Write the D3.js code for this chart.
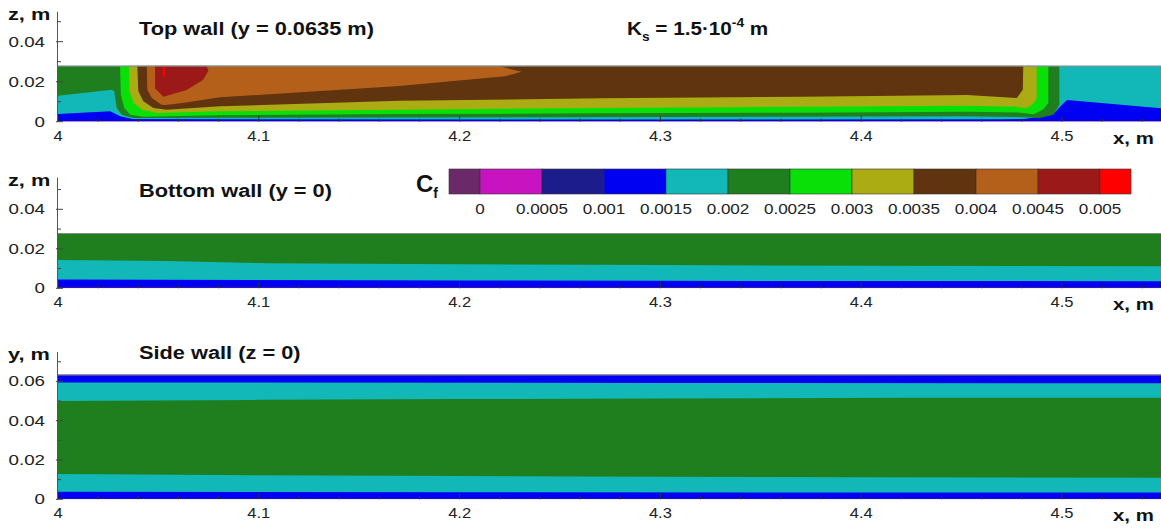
<!DOCTYPE html>
<html>
<head>
<meta charset="utf-8">
<script src="https://cdn.jsdelivr.net/npm/d3@7"></script>
<style>
  body { margin: 0; background: #fff; }
  svg { display: block; font-family: "Liberation Sans", Arial, sans-serif; }
</style>
</head>
<body>
<svg id="chart" width="1161" height="529"></svg>
<script>
// colour levels of Cf
const legendValues = [0, 0.0005, 0.001, 0.0015, 0.002, 0.0025, 0.003, 0.0035, 0.004, 0.0045, 0.005];
const legendLabels = ["0", "0.0005", "0.001", "0.0015", "0.002", "0.0025", "0.003", "0.0035", "0.004", "0.0045", "0.005"];
const levelColors = ["#6a2a6a", "#c814c0", "#1c1c8c", "#0000f2", "#12b8b8", "#1f7f1f",
                     "#08e008", "#abab14", "#60340e", "#b4601a", "#9c1919", "#ff0000"];
const xTicks = [4, 4.1, 4.2, 4.3, 4.4, 4.5];

const H = 0.028;      // top/bottom wall span in z
const HS = 0.0635;    // side wall span in y

// top wall (y = 0.0635): regions where Cf >= level, as [x, z] outlines
const topBlue = [[4, 0.0004], [4.55, 0.0004], [4.55, H], [4, H]];
const topCyan = [[4, 0.0038], [4.026, 0.0052], [4.031, 0.0027], [4.037, 0.0013], [4.25, 0.0011],
  [4.47, 0.0012], [4.481, 0.0014], [4.4955, 0.0035], [4.499, 0.0075], [4.5025, 0.0109],
  [4.55, 0.0066], [4.55, H], [4, H]];
const topGreen = [[4, H], [4, 0.013], [4.0267, 0.016], [4.028, 0.0152], [4.0292, 0.0069],
  [4.0317, 0.0035], [4.0373, 0.0019], [4.08, 0.002], [4.3, 0.0024], [4.45, 0.0027],
  [4.478, 0.0024], [4.489, 0.0018], [4.4957, 0.0035], [4.4987, 0.0085], [4.4987, H]];
const topLime = [[4.0309, H], [4.0313, 0.0135], [4.033, 0.0069], [4.036, 0.0035], [4.0425, 0.0025],
  [4.0807, 0.0032], [4.17, 0.0038], [4.27, 0.0042], [4.37, 0.0045], [4.4527, 0.005],
  [4.478, 0.0046], [4.486, 0.0037], [4.4905, 0.006], [4.4932, 0.0094], [4.4932, H]];
const topOlive = [[4.0353, H], [4.0356, 0.0152], [4.0378, 0.0094], [4.042, 0.006], [4.0492, 0.0044],
  [4.0807, 0.0052], [4.17, 0.006], [4.27, 0.0068], [4.37, 0.0075], [4.4527, 0.008],
  [4.477, 0.0075], [4.4824, 0.0067], [4.4857, 0.009], [4.4874, 0.0119], [4.4874, H]];
const topBrown = [[4.0395, H], [4.04, 0.0152], [4.0425, 0.0102], [4.0475, 0.0069], [4.0541, 0.006],
  [4.0807, 0.0077], [4.17, 0.0105], [4.27, 0.0117], [4.37, 0.0125], [4.4527, 0.0134],
  [4.4775, 0.0118], [4.4805, 0.016], [4.4807, H]];
const topOrange = [[4.0442, H], [4.0445, 0.016], [4.0467, 0.0119], [4.0515, 0.0085], [4.0533, 0.0083],
  [4.062, 0.0094], [4.0807, 0.0122], [4.17, 0.0178], [4.2226, 0.0227], [4.2309, 0.025], [4.2186, H]];
const topDarkRed = [[4.0483, H], [4.0483, 0.0167], [4.0525, 0.0125], [4.064, 0.0158], [4.0722, 0.0208],
  [4.0749, 0.0255], [4.074, H]];
const topRed = [[4.0522, 0.0272], [4.0522, 0.0228], [4.0532, 0.0224], [4.0535, 0.0272]];

// bottom wall (y = 0)
const botBlue = [[4, 0.0004], [4.55, 0.0004], [4.55, H], [4, H]];
const botCyan = [[4, 0.0045], [4.1, 0.0042], [4.2, 0.004], [4.3, 0.0038], [4.4, 0.0037], [4.55, 0.0036],
  [4.55, H], [4, H]];
const botGreen = [[4, 0.0143], [4.054, 0.0138], [4.104, 0.0127], [4.2, 0.0122], [4.3, 0.0118],
  [4.4, 0.0114], [4.55, 0.0112], [4.55, H], [4, H]];

// side wall (z = 0)
const sideBlue = [[4, 0.0003], [4.55, 0.0003], [4.55, HS], [4, HS]];
const sideCyan = [[4, 0.0039], [4.2, 0.0036], [4.4, 0.0034], [4.55, 0.0034],
  [4.55, 0.059], [4.3, 0.0592], [4, 0.0595]];
const sideGreen = [[4, 0.0129], [4.1, 0.0122], [4.2, 0.0118], [4.3, 0.0115], [4.4, 0.0112], [4.55, 0.011],
  [4.55, 0.0517], [4.42, 0.0517], [4.3, 0.0513], [4.2, 0.051], [4.1, 0.0506], [4, 0.05]];

const svg = d3.select("#chart");

// the reference lettering is wider than Liberation Sans, so stretch it sideways
function stretch(sel, k) {
  sel.each(function() {
    const t = d3.select(this);
    const tx = +t.attr("x"), ty = +t.attr("y");
    t.attr("x", 0).attr("y", 0)
      .attr("transform", "translate(" + tx + "," + ty + ") scale(" + k + ",1)");
  });
  return sel;
}

const x = d3.scaleLinear().domain([4, 4.55]).range([58, 58 + 0.55 * 2008]);

const panels = [
  {name: "top", y: d3.scaleLinear().domain([0, 0.055]).range([121.7, 11.7]), top: H,
   yTicks: [0, 0.02, 0.04], yLabel: "z, m", title: "Top wall (y = 0.0635 m)",
   layers: [[topBlue, 3], [topCyan, 4], [topGreen, 5], [topLime, 6], [topOlive, 7],
            [topBrown, 8], [topOrange, 9], [topDarkRed, 10], [topRed, 11]]},
  {name: "bottom", y: d3.scaleLinear().domain([0, 0.056]).range([288.3, 288.3 - 0.056 * 1975]), top: H,
   yTicks: [0, 0.02, 0.04], yLabel: "z, m", title: "Bottom wall (y = 0)",
   layers: [[botBlue, 3], [botCyan, 4], [botGreen, 5]]},
  {name: "side", y: d3.scaleLinear().domain([0, 0.075]).range([499.3, 499.3 - 0.075 * 1965]), top: HS,
   yTicks: [0, 0.02, 0.04, 0.06], yLabel: "y, m", title: "Side wall (z = 0)",
   layers: [[sideBlue, 3], [sideCyan, 4], [sideGreen, 5]]}
];

panels.forEach((p, i) => {
  const g = svg.append("g");
  const y = p.y;
  const y0 = y(0), yt = y(p.top);

  g.append("clipPath").attr("id", "clip" + i)
    .append("rect").attr("x", x(4)).attr("y", yt)
    .attr("width", x(4.55) - x(4)).attr("height", y0 - yt);

  const field = g.append("g").attr("clip-path", "url(#clip" + i + ")");
  field.append("rect").attr("x", x(4)).attr("y", yt)
    .attr("width", x(4.55) - x(4)).attr("height", y0 - yt)
    .attr("fill", levelColors[0]);

  const line = d3.line().x(d => x(d[0])).y(d => y(d[1]));
  p.layers.forEach(([pts, c]) => {
    field.append("path").attr("d", line(pts) + "Z").attr("fill", levelColors[c]);
  });

  // frame line at the top of the field
  g.append("line").attr("x1", x(4)).attr("x2", x(4.55)).attr("y1", yt + 0.5).attr("y2", yt + 0.5)
    .attr("stroke", "#8a8a8a").attr("stroke-width", 1);

  // x axis, ticks pointing into the field
  const xMinor = d3.range(4, 4.551, 0.02).filter(v => !xTicks.some(t => Math.abs(t - v) < 1e-6));
  g.selectAll(".xminor").data(xMinor).join("line")
    .attr("x1", d => x(d)).attr("x2", d => x(d)).attr("y1", y0).attr("y2", y0 - 3)
    .attr("stroke", "#333").attr("stroke-width", 1);
  g.selectAll(".xmajor").data(xTicks).join("line")
    .attr("x1", d => x(d)).attr("x2", d => x(d)).attr("y1", y0).attr("y2", y0 - 6)
    .attr("stroke", "#333").attr("stroke-width", 1);
  stretch(g.selectAll(".xlab").data(xTicks).join("text")
    .attr("x", d => x(d)).attr("y", y0 + 19).attr("text-anchor", "middle")
    .attr("font-size", 15).attr("fill", "#222").text(d => d3.format("")(d)), 1.1);
  stretch(g.append("text").attr("x", 1113).attr("y", y0 + 22)
    .attr("font-size", 17).attr("font-weight", "bold").attr("fill", "#111").text("x, m"), 1.2);

  // y axis
  const yTop = y.domain()[1];
  g.append("line").attr("x1", x(4) - 0.5).attr("x2", x(4) - 0.5).attr("y1", y0).attr("y2", y(yTop))
    .attr("stroke", "#555").attr("stroke-width", 1);
  const yMinor = d3.range(0.01, yTop, 0.02);
  g.selectAll(".yminor").data(yMinor).join("line")
    .attr("x1", x(4)).attr("x2", x(4) + 3).attr("y1", d => y(d)).attr("y2", d => y(d))
    .attr("stroke", "#444");
  g.selectAll(".ymajor").data(p.yTicks).join("line")
    .attr("x1", x(4) - 2).attr("x2", x(4) + 5).attr("y1", d => y(d)).attr("y2", d => y(d))
    .attr("stroke", "#444");
  stretch(g.selectAll(".ylab").data(p.yTicks).join("text")
    .attr("x", 45).attr("y", d => y(d) + 5).attr("text-anchor", "end")
    .attr("font-size", 15).attr("fill", "#222").text(d => d === 0 ? "0" : d3.format("")(d)), 1.25);
  stretch(g.append("text").attr("x", 8).attr("y", y(yTop) + 8)
    .attr("font-size", 17).attr("font-weight", "bold").attr("fill", "#111").text(p.yLabel), 1.28);

  stretch(g.append("text").attr("x", 139).attr("y", [35, 197, 359][i])
    .attr("font-size", 18).attr("font-weight", "bold").attr("fill", "#111").text(p.title), 1.21);
});

// roughness label
const ks = svg.append("text").attr("x", 627).attr("y", 35)
  .attr("font-size", 18).attr("font-weight", "bold").attr("fill", "#111");
ks.append("tspan").text("K");
ks.append("tspan").attr("font-size", 12).attr("dy", 6).text("s");
ks.append("tspan").attr("dy", -6).text(" = 1.5\u00b710");
ks.append("tspan").attr("font-size", 12).attr("dy", -8).text("-4");
ks.append("tspan").attr("dy", 8).text(" m");
stretch(ks, 1.15);

// colour legend
const lx = d3.scaleLinear().domain([0, 0.005]).range([480, 1100]);
const step = 0.0005;
const bins = levelColors.map((c, i) => ({c: c,
  a: i === 0 ? -step / 2 : legendValues[i - 1],
  b: i === levelColors.length - 1 ? 0.005 + step / 2 : legendValues[i]}));
svg.selectAll(".swatch").data(bins).join("rect")
  .attr("x", d => lx(d.a)).attr("y", 169)
  .attr("width", d => lx(d.b) - lx(d.a)).attr("height", 25)
  .attr("fill", d => d.c).attr("stroke", "#333").attr("stroke-width", 0.6);
stretch(svg.selectAll(".leglab").data(legendValues).join("text")
  .attr("x", (d, i) => lx(d)).attr("y", 214).attr("text-anchor", "middle")
  .attr("font-size", 14).attr("fill", "#222")
  .text((d, i) => legendLabels[i]), 1.22);

const cf = svg.append("text").attr("x", 416).attr("y", 192)
  .attr("font-size", 24).attr("font-weight", "bold").attr("fill", "#111");
cf.append("tspan").text("C");
cf.append("tspan").attr("font-size", 14).attr("dy", 6).text("f");
</script>
</body>
</html>
